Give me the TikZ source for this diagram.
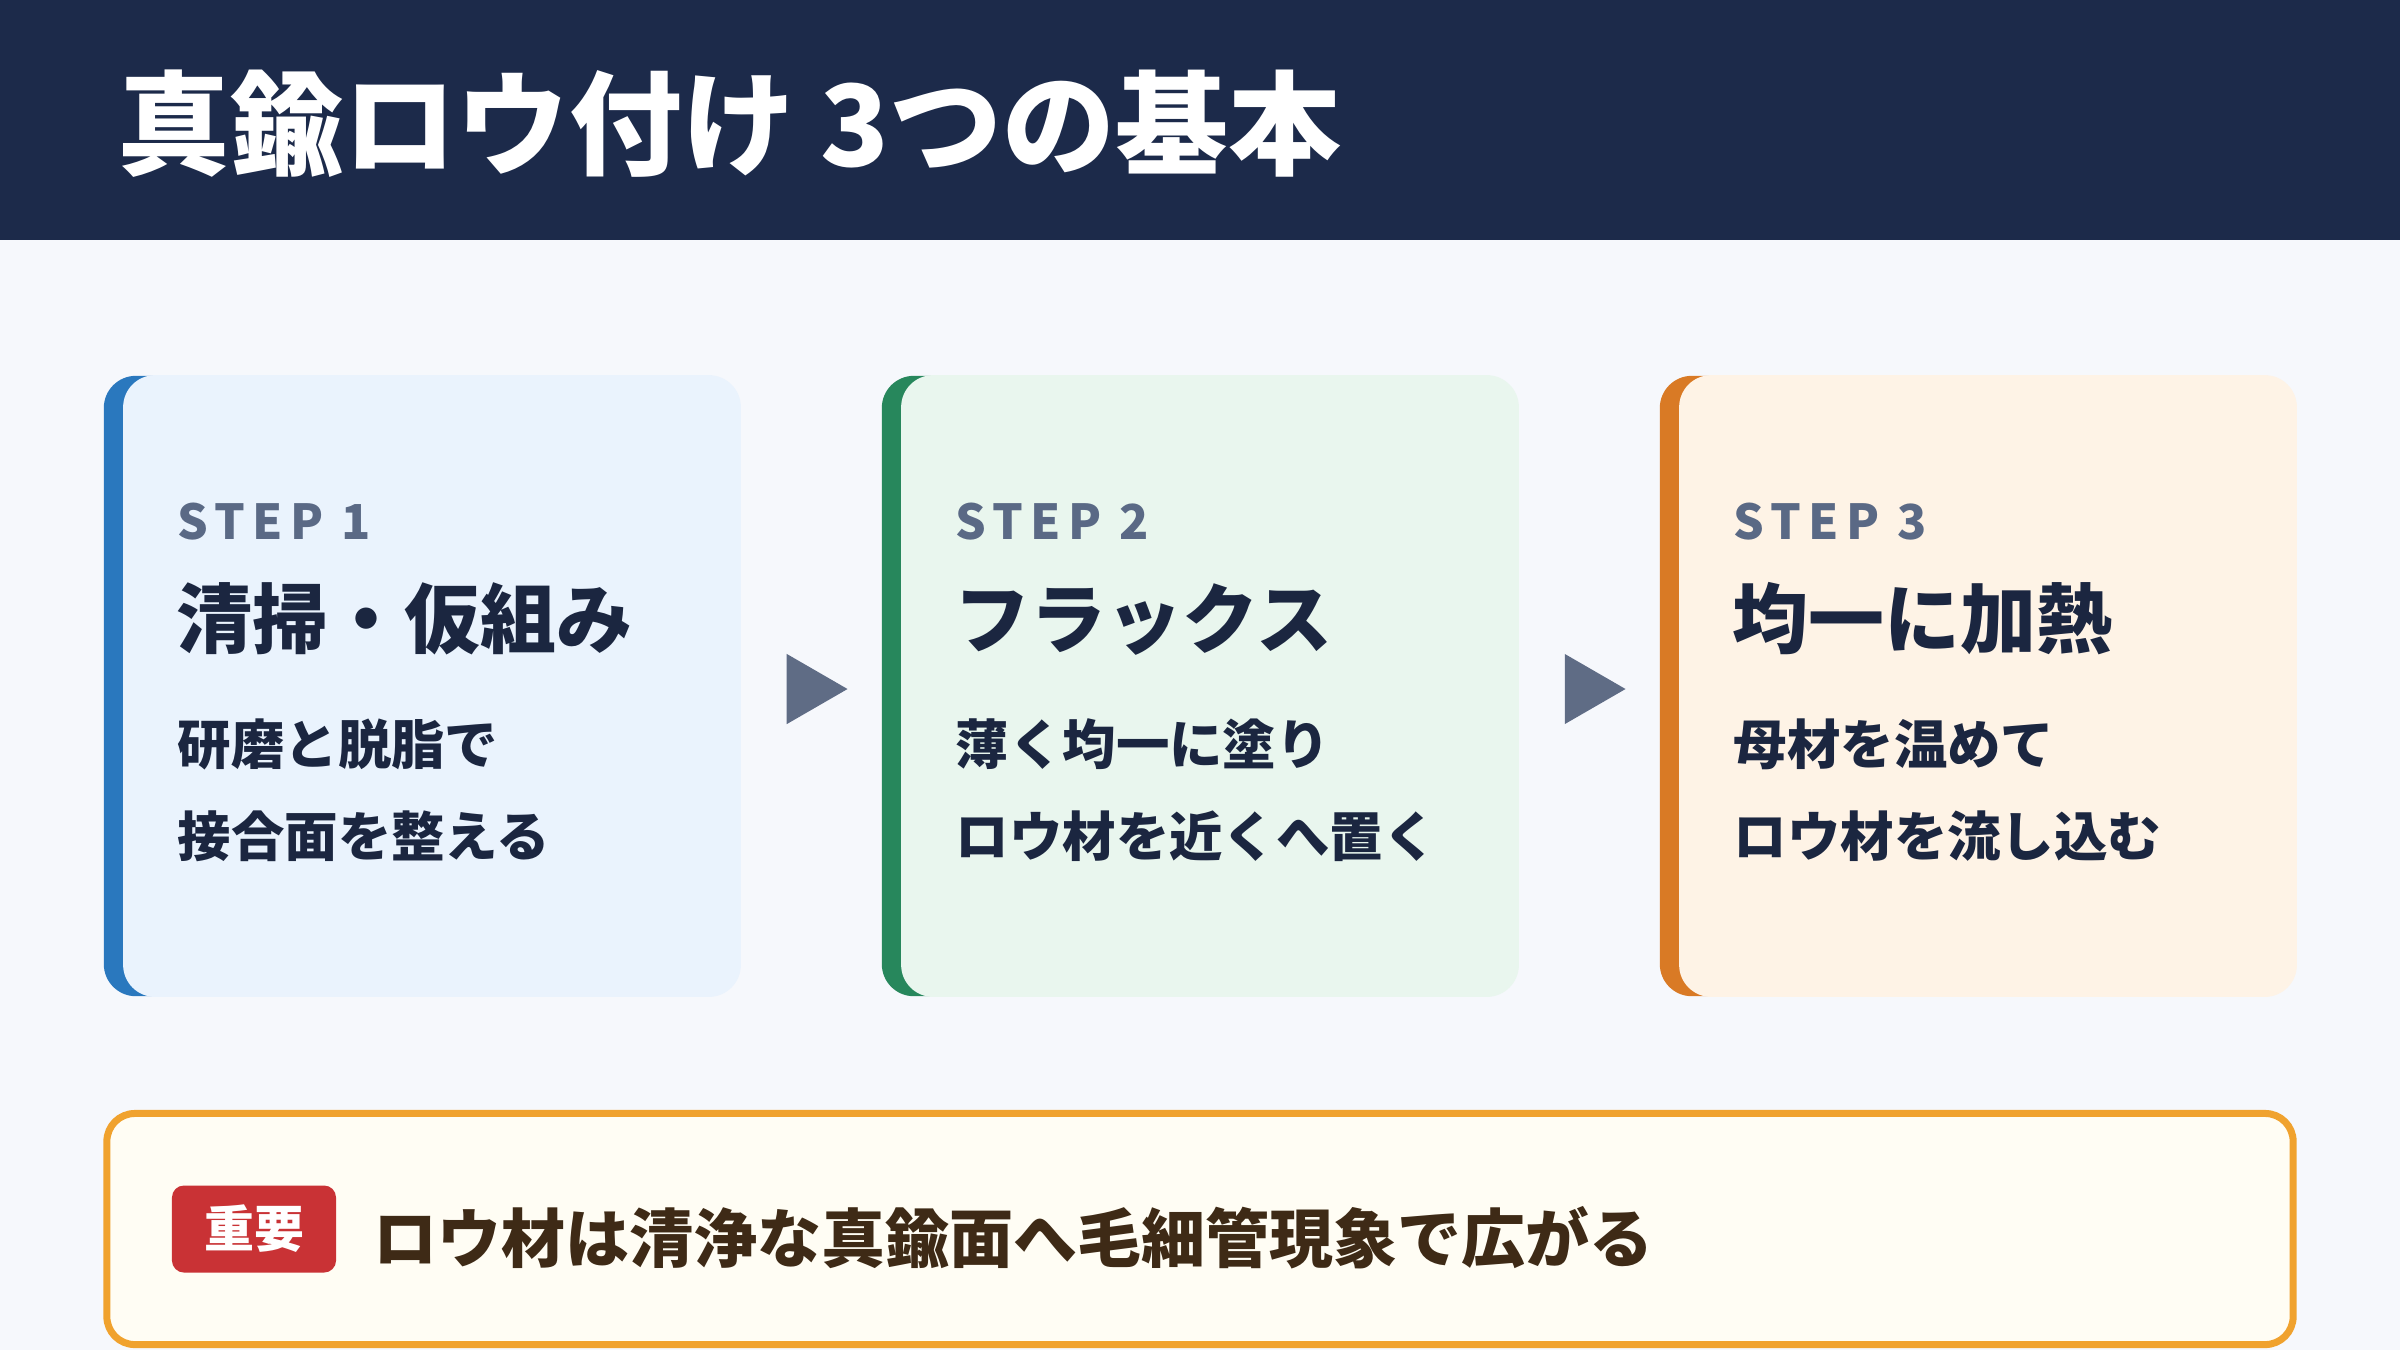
\documentclass[tikz,border=0pt]{standalone}
\usepackage{fontspec}
\setmainfont{Noto Sans CJK JP}
\newfontfamily\stepfont[LetterSpace=15]{Noto Sans CJK JP}
\usetikzlibrary{shapes.geometric}

\definecolor{navy}{HTML}{1C2A4A}
\definecolor{pagebg}{HTML}{F6F8FC}
\definecolor{inkdark}{HTML}{1B2640}
\definecolor{slate}{HTML}{5A6985}
\definecolor{arrowgray}{HTML}{5F6C85}
\definecolor{blueacc}{HTML}{2A78BE}
\definecolor{bluebg}{HTML}{EAF3FD}
\definecolor{greenacc}{HTML}{27875C}
\definecolor{greenbg}{HTML}{E9F6EE}
\definecolor{orangeacc}{HTML}{D97A25}
\definecolor{orangebg}{HTML}{FEF3E6}
\definecolor{noteedge}{HTML}{F0A22E}
\definecolor{notebg}{HTML}{FFFDF4}
\definecolor{notetext}{HTML}{3E2A16}
\definecolor{badgered}{HTML}{C93235}

\begin{document}
\begin{tikzpicture}[x=0.01cm,y=-0.01cm]
    \tikzstyle{card}=[rectangle,rounded corners=0.32cm,minimum width=6.36cm,minimum height=6.2cm,inner sep=0]
    \tikzstyle{steplabel}=[anchor=base west,inner sep=0,text=slate,font=\stepfont\bfseries\fontsize{13.7}{16}\selectfont]
    \tikzstyle{steptitle}=[anchor=base west,inner sep=0,text=inkdark,font=\bfseries\fontsize{21.6}{26}\selectfont]
    \tikzstyle{stepbody}=[anchor=base west,inner sep=0,align=left,text=inkdark,font=\bfseries\fontsize{15.2}{25.9}\selectfont]
    \tikzstyle{flow}=[regular polygon,regular polygon sides=3,shape border rotate=-90,fill=arrowgray,minimum size=0.81cm,inner sep=0]

    \useasboundingbox (0,0) rectangle (2400,1350);
    \fill[pagebg] (0,0) rectangle (2400,1350);
    \fill[navy] (0,0) rectangle (2400,240);
    \node[anchor=base west,inner sep=0,text=white,font=\bfseries\fontsize{32.1}{38}\selectfont] at (117,166) (title) {真鍮ロウ付け 3つの基本};

    \node[card,fill=blueacc] at (422,686) (card1) {};
    \fill[bluebg,rounded corners=0.32cm] ([xshift=0.2cm]card1.north west) rectangle (card1.south east);
    \node[card,fill=greenacc] at (1200,686) (card2) {};
    \fill[greenbg,rounded corners=0.32cm] ([xshift=0.2cm]card2.north west) rectangle (card2.south east);
    \node[card,fill=orangeacc] at (1978,686) (card3) {};
    \fill[orangebg,rounded corners=0.32cm] ([xshift=0.2cm]card3.north west) rectangle (card3.south east);

    \node[steplabel] at (177,539) (s1label) {STEP 1};
    \node[steptitle] at (176,647) (s1title) {清掃・仮組み};
    \node[stepbody] at (177,856) (s1body) {研磨と脱脂で\\接合面を整える};

    \node[steplabel] at (955,539) (s2label) {STEP 2};
    \node[steptitle] at (954,647) (s2title) {フラックス};
    \node[stepbody] at (955,856) (s2body) {薄く均一に塗り\\ロウ材を近くへ置く};

    \node[steplabel] at (1733,539) (s3label) {STEP 3};
    \node[steptitle] at (1732,647) (s3title) {均一に加熱};
    \node[stepbody] at (1733,856) (s3body) {母材を温めて\\ロウ材を流し込む};

    \node[flow] at (807,689) (f12) {};
    \node[flow] at (1585,689) (f23) {};

    \node[rectangle,draw=noteedge,fill=notebg,line width=0.07cm,rounded corners=0.28cm,minimum width=21.85cm,minimum height=2.31cm] at (1200,1229) (note) {};
    \node[rectangle,fill=badgered,rounded corners=0.12cm,minimum width=1.64cm,minimum height=0.87cm,inner sep=0,text=white,font=\bfseries\fontsize{14.2}{17}\selectfont] at (254,1229) (badge) {重要};
    \node[anchor=base west,inner sep=0,text=notetext,font=\bfseries\fontsize{18.2}{22}\selectfont] at (373,1262) (notetxt) {ロウ材は清浄な真鍮面へ毛細管現象で広がる};
\end{tikzpicture}
\end{document}
